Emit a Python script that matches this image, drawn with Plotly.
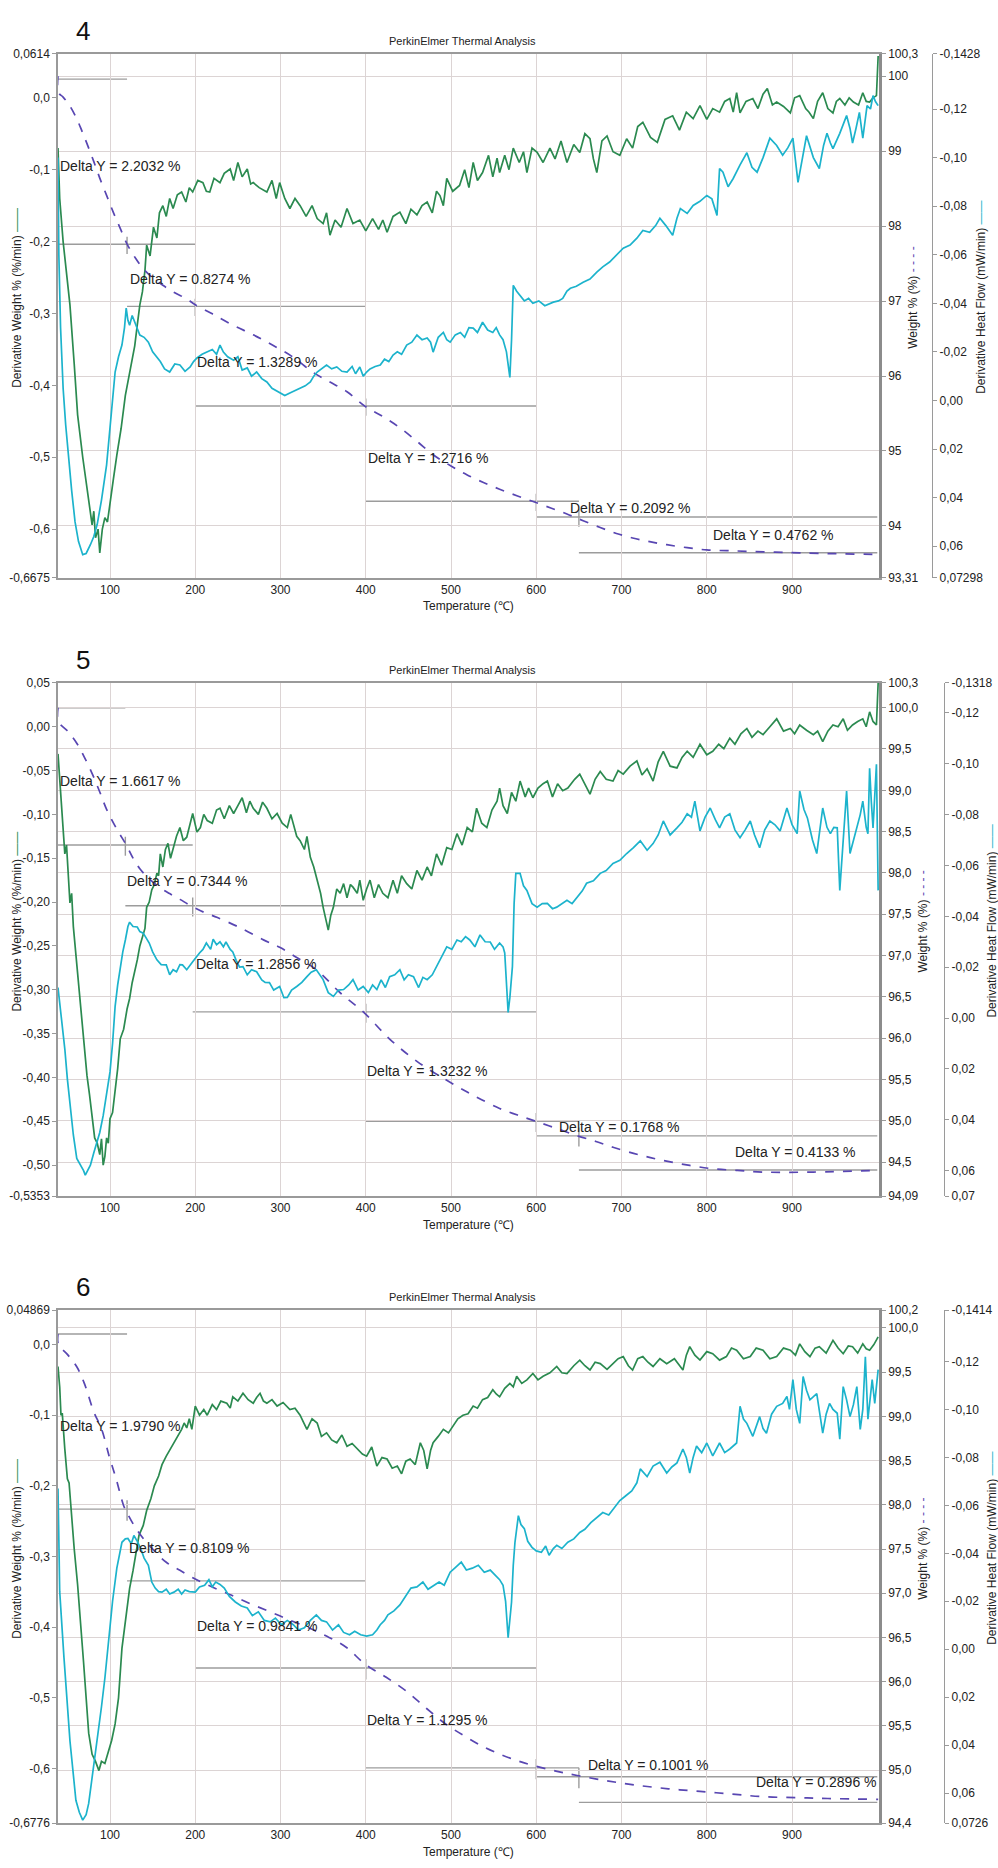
import plotly.graph_objects as go

# ======================= DATA =======================
TEMP_TICKS = [100, 200, 300, 400, 500, 600, 700, 800, 900]
TEMP_RANGE = [39, 1002]
PANEL_NAMES = ["4", "5", "6"]
CHART_TITLE = "PerkinElmer Thermal Analysis"

# ---------- Panel 4 ----------
P4_DW = [(39,-0.07),(41,-0.14),(45,-0.2),(49,-0.24),(53,-0.288),(58,-0.37),(62,-0.441),(68,-0.50),(74,-0.548),(79,-0.594),(81,-0.575),(83,-0.612),(86,-0.60),(88,-0.633),(91,-0.60),(94,-0.584),(97,-0.59),(100,-0.562),(104,-0.53),(108,-0.497),(113,-0.46),(118,-0.414),(122,-0.39),(126,-0.362),(129,-0.345),(132,-0.316),(135,-0.288),(138,-0.27),(141,-0.24),(143,-0.205),(147,-0.22),(151,-0.18),(155,-0.195),(158,-0.16),(162,-0.15),(166,-0.165),(170,-0.14),(174,-0.154),(179,-0.135),(184,-0.131),(189,-0.145),(193,-0.125),(197,-0.131),(203,-0.115),(209,-0.118),(213,-0.13),(217,-0.131),(222,-0.112),(229,-0.118),(234,-0.105),(241,-0.099),(245,-0.115),(250,-0.09),(255,-0.11),(261,-0.099),(265,-0.12),(268,-0.118),(275,-0.125),(284,-0.131),(290,-0.115),(295,-0.14),(299,-0.118),(305,-0.14),(311,-0.154),(317,-0.14),(323,-0.15),(330,-0.165),(337,-0.15),(343,-0.168),(350,-0.175),(354,-0.16),(358,-0.191),(364,-0.17),(371,-0.18),(378,-0.154),(385,-0.175),(393,-0.17),(400,-0.185),(408,-0.168),(415,-0.183),(420,-0.17),(425,-0.187),(432,-0.165),(440,-0.159),(447,-0.175),(453,-0.155),(460,-0.163),(466,-0.15),(472,-0.145),(478,-0.16),(483,-0.13),(487,-0.136),(491,-0.15),(495,-0.112),(502,-0.13),(510,-0.122),(516,-0.10),(521,-0.125),(526,-0.09),(531,-0.115),(537,-0.104),(544,-0.08),(549,-0.11),(554,-0.084),(557,-0.104),(563,-0.08),(568,-0.1),(573,-0.07),(580,-0.09),(585,-0.075),(589,-0.104),(595,-0.07),(601,-0.076),(608,-0.09),(616,-0.07),(622,-0.085),(629,-0.06),(636,-0.09),(644,-0.065),(651,-0.076),(657,-0.05),(663,-0.057),(667,-0.085),(671,-0.104),(677,-0.06),(683,-0.053),(690,-0.075),(698,-0.08),(706,-0.057),(713,-0.07),(719,-0.04),(725,-0.034),(734,-0.055),(742,-0.062),(751,-0.03),(760,-0.025),(768,-0.045),(776,-0.02),(784,-0.029),(792,-0.011),(800,-0.03),(807,-0.015),(815,-0.02),(821,-0.005),(827,-0.001),(831,-0.02),(835,0.007),(839,-0.021),(846,-0.005),(854,-0.001),(860,-0.015),(866,0.005),(871,0.013),(877,-0.01),(882,-0.006),(890,-0.012),(898,-0.021),(903,0.0),(909,0.003),(916,-0.015),(920,-0.02),(925,-0.029),(930,-0.005),(936,0.007),(942,-0.015),(948,-0.021),(952,-0.005),(956,-0.001),(962,-0.01),(967,0.0),(972,-0.006),(978,-0.01),(983,0.007),(987,-0.005),(991,-0.006),(995,0.0),(999,0.003),(1001,0.058)]
P4_W = [(39,100.0),(39.5,99.78),(45,99.72),(53,99.6),(61,99.43),(67,99.27),(74,99.07),(81,98.86),(88,98.64),(96,98.41),(104,98.18),(112,97.97),(120,97.76),(130,97.57),(139,97.43),(150,97.31),(162,97.21),(176,97.11),(190,97.03),(200,96.95),(220,96.83),(244,96.68),(268,96.55),(291,96.41),(315,96.25),(338,96.05),(358,95.92),(378,95.79),(400,95.59),(420,95.46),(440,95.31),(460,95.13),(479,94.95),(500,94.80),(519,94.68),(538,94.58),(557,94.49),(578,94.40),(598,94.32),(617,94.24),(636,94.16),(655,94.07),(675,93.98),(694,93.90),(713,93.84),(733,93.79),(753,93.75),(777,93.71),(800,93.68),(825,93.67),(851,93.66),(880,93.65),(909,93.64),(950,93.63),(1001,93.62)]
P4_HF = [(39,-0.10),(40,-0.06),(42,-0.03),(45,-0.005),(48,0.01),(51,0.0224),(55,0.037),(59,0.050),(63,0.058),(68,0.0635),(72,0.063),(77,0.0594),(81,0.056),(85,0.051),(90,0.041),(96,0.0265),(101,0.008),(106,-0.0117),(110,-0.018),(114,-0.0228),(117,-0.03),(119,-0.038),(121,-0.033),(123,-0.031),(126,-0.035),(129,-0.0322),(132,-0.03),(135,-0.0269),(140,-0.026),(145,-0.024),(150,-0.02),(155,-0.018),(159,-0.016),(164,-0.013),(170,-0.0117),(176,-0.015),(182,-0.0146),(188,-0.012),(194,-0.0138),(198,-0.016),(202,-0.0175),(208,-0.019),(214,-0.0199),(220,-0.021),(225,-0.019),(229,-0.0228),(233,-0.0199),(238,-0.018),(245,-0.0166),(250,-0.018),(255,-0.0125),(261,-0.0134),(266,-0.01),(272,-0.0117),(278,-0.009),(284,-0.0076),(290,-0.005),(295,-0.004),(299,-0.0031),(305,-0.002),(311,-0.0031),(317,-0.004),(323,-0.005),(329,-0.006),(335,-0.0076),(339,-0.01),(343,-0.0117),(348,-0.013),(354,-0.0146),(360,-0.013),(366,-0.0138),(372,-0.012),(378,-0.0117),(384,-0.014),(388,-0.011),(393,-0.0138),(397,-0.01),(401,-0.0117),(405,-0.013),(411,-0.014),(417,-0.0146),(422,-0.017),(427,-0.016),(432,-0.0187),(437,-0.02),(442,-0.019),(448,-0.0228),(454,-0.024),(460,-0.0269),(466,-0.025),(472,-0.0257),(476,-0.024),(479,-0.0199),(485,-0.026),(491,-0.028),(495,-0.025),(499,-0.024),(505,-0.027),(511,-0.028),(516,-0.026),(521,-0.03),(526,-0.0298),(531,-0.028),(537,-0.0322),(543,-0.029),(549,-0.028),(553,-0.03),(557,-0.027),(561,-0.025),(565,-0.02),(569,-0.0095),(571,-0.025),(573,-0.0474),(577,-0.045),(581,-0.0433),(586,-0.041),(591,-0.042),(596,-0.04),(603,-0.041),(610,-0.039),(620,-0.0405),(626,-0.041),(631,-0.042),(636,-0.045),(640,-0.0462),(647,-0.047),(655,-0.0487),(663,-0.05),(671,-0.0528),(678,-0.055),(686,-0.057),(694,-0.06),(702,-0.0627),(710,-0.064),(718,-0.0668),(725,-0.07),(733,-0.0692),(740,-0.072),(745,-0.075),(752,-0.072),(760,-0.068),(765,-0.075),(769,-0.079),(777,-0.077),(784,-0.0803),(792,-0.082),(800,-0.0844),(806,-0.083),(812,-0.0762),(815,-0.0955),(819,-0.094),(825,-0.088),(831,-0.0914),(839,-0.097),(847,-0.102),(853,-0.096),(859,-0.094),(866,-0.1),(874,-0.108),(882,-0.105),(889,-0.101),(895,-0.104),(901,-0.108),(907,-0.0898),(912,-0.1),(917,-0.109),(925,-0.1),(932,-0.0955),(937,-0.105),(941,-0.110),(945,-0.106),(948,-0.1037),(956,-0.11),(964,-0.1173),(968,-0.112),(971,-0.106),(975,-0.112),(979,-0.1186),(983,-0.108),(988,-0.1214),(992,-0.12),(995,-0.1255),(998,-0.123),(1001,-0.1214)]
P4_STEP_T = [39, 120, 200, 400, 600, 650, 1000]
P4_DELTA = [2.2032, 0.8274, 1.3289, 1.2716, 0.2092, 0.4762]
P4_W0 = 99.96
P4_LABEL_T = [39, 121, 200, 400, 637, 805]
P4_LABEL_W = [98.75, 97.24, 96.14, 94.85, 94.19, 93.82]
P4_DW_RANGE = [-0.6675, 0.0614]
P4_W_RANGE = [93.31, 100.3]
P4_HF_RANGE = [0.07298, -0.1428]
P4_DW_TICKS = [0.0614, 0.0, -0.1, -0.2, -0.3, -0.4, -0.5, -0.6, -0.6675]
P4_DW_TEXT = ["0,0614", "0,0", "-0,1", "-0,2", "-0,3", "-0,4", "-0,5", "-0,6", "-0,6675"]
P4_W_TICKS = [100.3, 100, 99, 98, 97, 96, 95, 94, 93.31]
P4_W_TEXT = ["100,3", "100", "99", "98", "97", "96", "95", "94", "93,31"]
P4_HF_TICKS = [-0.1428, -0.12, -0.10, -0.08, -0.06, -0.04, -0.02, 0.0, 0.02, 0.04, 0.06, 0.07298]
P4_HF_TEXT = ["-0,1428", "-0,12", "-0,10", "-0,08", "-0,06", "-0,04", "-0,02", "0,00", "0,02", "0,04", "0,06", "0,07298"]

# ---------- Panel 5 ----------
P5_DW = [(39,-0.031),(41,-0.06),(44,-0.093),(46,-0.13),(47,-0.145),(49,-0.135),(51,-0.17),(53,-0.201),(55,-0.19),(57,-0.228),(60,-0.26),(63,-0.292),(65,-0.32),(67,-0.341),(70,-0.37),(73,-0.398),(76,-0.42),(79,-0.443),(82,-0.469),(85,-0.475),(88,-0.488),(90,-0.47),(92,-0.50),(94,-0.49),(96,-0.469),(98,-0.475),(100,-0.447),(103,-0.44),(106,-0.416),(109,-0.39),(112,-0.356),(116,-0.345),(120,-0.322),(123,-0.31),(126,-0.292),(129,-0.28),(132,-0.266),(135,-0.25),(139,-0.235),(141,-0.23),(143,-0.206),(146,-0.2),(149,-0.186),(152,-0.18),(155,-0.167),(157,-0.17),(159,-0.145),(162,-0.160),(165,-0.14),(168,-0.133),(171,-0.15),(174,-0.138),(178,-0.125),(182,-0.115),(186,-0.13),(190,-0.126),(194,-0.11),(197,-0.099),(202,-0.12),(206,-0.115),(210,-0.1),(214,-0.107),(220,-0.11),(225,-0.095),(229,-0.093),(234,-0.105),(240,-0.09),(245,-0.099),(250,-0.09),(255,-0.081),(260,-0.098),(264,-0.085),(268,-0.093),(274,-0.1),(279,-0.086),(284,-0.093),(290,-0.105),(296,-0.099),(302,-0.11),(308,-0.115),(312,-0.1),(315,-0.111),(319,-0.125),(323,-0.13),(328,-0.14),(331,-0.125),(335,-0.149),(339,-0.16),(343,-0.175),(347,-0.19),(350,-0.206),(353,-0.22),(356,-0.232),(359,-0.215),(362,-0.206),(366,-0.185),(370,-0.19),(374,-0.179),(378,-0.195),(382,-0.18),(385,-0.183),(390,-0.19),(393,-0.175),(397,-0.198),(401,-0.185),(405,-0.175),(410,-0.195),(415,-0.18),(420,-0.19),(426,-0.195),(432,-0.175),(437,-0.19),(442,-0.17),(448,-0.179),(454,-0.185),(460,-0.164),(466,-0.175),(472,-0.160),(477,-0.17),(483,-0.145),(489,-0.158),(495,-0.138),(501,-0.14),(507,-0.122),(513,-0.135),(519,-0.115),(525,-0.12),(530,-0.093),(536,-0.11),(542,-0.115),(548,-0.095),(554,-0.085),(557,-0.07),(561,-0.09),(566,-0.099),(571,-0.075),(576,-0.085),(581,-0.062),(587,-0.08),(591,-0.07),(596,-0.081),(602,-0.07),(608,-0.065),(613,-0.062),(619,-0.08),(625,-0.065),(631,-0.073),(637,-0.07),(645,-0.06),(651,-0.054),(657,-0.065),(663,-0.077),(669,-0.06),(675,-0.051),(682,-0.06),(690,-0.062),(696,-0.05),(702,-0.054),(710,-0.045),(718,-0.039),(724,-0.055),(730,-0.048),(737,-0.062),(743,-0.04),(749,-0.028),(757,-0.045),(765,-0.047),(771,-0.035),(777,-0.028),(784,-0.035),(792,-0.02),(800,-0.032),(807,-0.028),(814,-0.02),(820,-0.025),(827,-0.013),(833,-0.02),(840,-0.008),(847,-0.002),(853,-0.012),(860,-0.005),(866,-0.009),(874,0.0),(882,0.009),(890,-0.005),(898,-0.002),(903,-0.008),(909,0.002),(917,-0.004),(925,-0.009),(930,-0.005),(936,-0.017),(942,-0.005),(948,0.002),(954,0.0),(960,0.009),(965,-0.004),(971,0.002),(977,0.006),(983,0.009),(987,0.0),(991,0.017),(995,0.006),(999,0.002),(1001,0.05)]
P5_W = [(39,100.0),(39.5,99.83),(50,99.72),(61,99.57),(70,99.40),(80,99.18),(88,98.98),(96,98.77),(108,98.53),(119,98.34),(127,98.18),(135,98.05),(147,97.92),(159,97.82),(170,97.75),(182,97.68),(197,97.59),(211,97.52),(226,97.46),(252,97.34),(280,97.19),(299,97.10),(320,96.97),(342,96.83),(370,96.55),(398,96.31),(428,95.99),(460,95.72),(495,95.49),(526,95.31),(557,95.15),(578,95.07),(598,95.0),(623,94.91),(648,94.82),(670,94.75),(690,94.68),(720,94.59),(749,94.52),(780,94.46),(807,94.42),(836,94.40),(866,94.38),(925,94.38),(1001,94.40)]
P5_HF = [(39,-0.012),(43,0.0),(47,0.0122),(50,0.024),(53,0.0345),(57,0.046),(61,0.0552),(64,0.057),(67,0.0583),(69,0.06),(71,0.0618),(74,0.06),(77,0.0579),(81,0.053),(85,0.0485),(88,0.045),(92,0.0384),(96,0.03),(100,0.0212),(103,0.01),(106,-0.0046),(109,-0.013),(112,-0.0202),(115,-0.026),(118,-0.0307),(121,-0.036),(123,-0.0377),(127,-0.036),(132,-0.0358),(135,-0.034),(139,-0.0334),(143,-0.031),(146,-0.0295),(150,-0.026),(155,-0.0229),(160,-0.021),(166,-0.0209),(170,-0.017),(174,-0.019),(178,-0.0182),(182,-0.021),(185,-0.0209),(190,-0.019),(197,-0.0221),(201,-0.024),(205,-0.0256),(209,-0.027),(213,-0.0295),(218,-0.027),(221,-0.031),(225,-0.0288),(229,-0.03),(233,-0.028),(236,-0.0299),(241,-0.027),(244,-0.026),(248,-0.0227),(252,-0.02),(256,-0.0202),(261,-0.017),(266,-0.019),(272,-0.0182),(278,-0.015),(282,-0.014),(287,-0.0139),(292,-0.011),(299,-0.0124),(304,-0.008),(308,-0.0081),(313,-0.011),(319,-0.0124),(325,-0.014),(331,-0.0163),(336,-0.018),(342,-0.019),(346,-0.017),(350,-0.0151),(356,-0.01),(362,-0.0085),(368,-0.011),(374,-0.0112),(380,-0.013),(385,-0.0151),(391,-0.011),(397,-0.0124),(403,-0.01),(408,-0.013),(413,-0.0112),(418,-0.015),(423,-0.012),(428,-0.0163),(434,-0.017),(440,-0.019),(445,-0.015),(450,-0.017),(456,-0.0163),(462,-0.012),(467,-0.016),(472,-0.0151),(478,-0.017),(483,-0.0202),(489,-0.024),(495,-0.028),(501,-0.027),(507,-0.0307),(512,-0.03),(517,-0.032),(522,-0.0307),(528,-0.028),(534,-0.0327),(540,-0.03),(546,-0.0299),(551,-0.027),(557,-0.0295),(561,-0.028),(563,-0.0256),(565,-0.015),(567,-0.0022),(569,-0.008),(572,-0.0202),(574,-0.045),(576,-0.0569),(581,-0.0569),(585,-0.052),(589,-0.0502),(595,-0.045),(601,-0.0436),(607,-0.045),(613,-0.0451),(619,-0.043),(624,-0.0436),(630,-0.045),(636,-0.0463),(642,-0.045),(648,-0.0475),(654,-0.05),(659,-0.053),(667,-0.054),(675,-0.0569),(682,-0.058),(690,-0.0608),(698,-0.062),(706,-0.0647),(714,-0.067),(722,-0.0697),(730,-0.066),(737,-0.0686),(743,-0.072),(749,-0.0775),(757,-0.072),(765,-0.0748),(771,-0.077),(777,-0.0803),(782,-0.079),(786,-0.0853),(792,-0.0736),(798,-0.079),(804,-0.0826),(810,-0.078),(815,-0.0748),(821,-0.079),(827,-0.0803),(833,-0.074),(839,-0.0709),(845,-0.074),(851,-0.0775),(856,-0.072),(862,-0.067),(868,-0.074),(874,-0.0775),(880,-0.076),(886,-0.0736),(894,-0.0826),(900,-0.076),(906,-0.0725),(909,-0.0893),(914,-0.082),(918,-0.0787),(924,-0.07),(929,-0.0647),(933,-0.075),(936,-0.0826),(941,-0.075),(945,-0.0725),(949,-0.075),(953,-0.0748),(956,-0.0502),(960,-0.07),(964,-0.0893),(968,-0.0647),(972,-0.07),(976,-0.0748),(980,-0.08),(983,-0.0853),(987,-0.075),(989,-0.0725),(991,-0.0982),(993,-0.085),(995,-0.0748),(999,-0.0998),(1001,-0.0502)]
P5_STEP_T = [39, 118, 197, 400, 600, 650, 1000]
P5_DELTA = [1.6617, 0.7344, 1.2856, 1.3232, 0.1768, 0.4133]
P5_W0 = 100.0
P5_LABEL_T = [39, 118, 198, 399, 624, 831]
P5_LABEL_W = [99.06, 97.86, 96.85, 95.55, 94.88, 94.57]
P5_DW_RANGE = [-0.5353, 0.05]
P5_W_RANGE = [94.09, 100.3]
P5_HF_RANGE = [0.07, -0.1318]
P5_DW_TICKS = [0.05, 0.0, -0.05, -0.10, -0.15, -0.20, -0.25, -0.30, -0.35, -0.40, -0.45, -0.50, -0.5353]
P5_DW_TEXT = ["0,05", "0,00", "-0,05", "-0,10", "-0,15", "-0,20", "-0,25", "-0,30", "-0,35", "-0,40", "-0,45", "-0,50", "-0,5353"]
P5_W_TICKS = [100.3, 100.0, 99.5, 99.0, 98.5, 98.0, 97.5, 97.0, 96.5, 96.0, 95.5, 95.0, 94.5, 94.09]
P5_W_TEXT = ["100,3", "100,0", "99,5", "99,0", "98,5", "98,0", "97,5", "97,0", "96,5", "96,0", "95,5", "95,0", "94,5", "94,09"]
P5_HF_TICKS = [-0.1318, -0.12, -0.10, -0.08, -0.06, -0.04, -0.02, 0.0, 0.02, 0.04, 0.06, 0.07]
P5_HF_TEXT = ["-0,1318", "-0,12", "-0,10", "-0,08", "-0,06", "-0,04", "-0,02", "0,00", "0,02", "0,04", "0,06", "0,07"]

# ---------- Panel 6 ----------
P6_DW = [(39,-0.031),(41,-0.06),(42.5,-0.1),(44,-0.097),(47,-0.148),(50,-0.19),(52,-0.196),(55,-0.25),(58,-0.289),(62,-0.34),(65,-0.383),(69,-0.45),(72,-0.5),(75,-0.55),(79,-0.58),(83,-0.59),(87,-0.603),(90,-0.59),(94,-0.593),(98,-0.575),(102,-0.56),(106,-0.537),(110,-0.5),(114,-0.43),(118,-0.39),(123,-0.345),(127,-0.32),(130,-0.298),(134,-0.27),(139,-0.256),(143,-0.235),(148,-0.218),(152,-0.2),(157,-0.186),(161,-0.17),(166,-0.158),(170,-0.15),(175,-0.139),(180,-0.13),(184,-0.12),(187,-0.111),(190,-0.118),(193,-0.105),(196,-0.12),(200,-0.087),(205,-0.1),(210,-0.092),(214,-0.1),(220,-0.085),(225,-0.092),(230,-0.08),(237,-0.083),(241,-0.09),(244,-0.074),(250,-0.08),(256,-0.069),(262,-0.078),(268,-0.083),(272,-0.075),(276,-0.069),(280,-0.08),(284,-0.083),(290,-0.078),(296,-0.087),(303,-0.082),(311,-0.092),(317,-0.09),(323,-0.1),(327,-0.11),(331,-0.12),(337,-0.105),(343,-0.111),(348,-0.13),(354,-0.125),(360,-0.135),(366,-0.139),(372,-0.128),(378,-0.144),(384,-0.14),(390,-0.148),(396,-0.155),(401,-0.158),(407,-0.145),(413,-0.172),(419,-0.16),(425,-0.162),(431,-0.175),(437,-0.172),(442,-0.183),(447,-0.165),(452,-0.162),(458,-0.17),(464,-0.139),(468,-0.15),(472,-0.176),(476,-0.15),(479,-0.139),(485,-0.13),(491,-0.12),(497,-0.125),(502,-0.116),(508,-0.105),(514,-0.1),(520,-0.098),(526,-0.087),(531,-0.09),(537,-0.078),(543,-0.075),(549,-0.064),(553,-0.07),(557,-0.074),(563,-0.062),(569,-0.055),(573,-0.06),(577,-0.045),(583,-0.055),(589,-0.05),(596,-0.041),(602,-0.05),(608,-0.045),(616,-0.04),(624,-0.031),(630,-0.04),(636,-0.041),(644,-0.03),(651,-0.022),(657,-0.03),(663,-0.036),(669,-0.025),(675,-0.027),(683,-0.035),(690,-0.027),(696,-0.02),(702,-0.017),(708,-0.03),(713,-0.036),(719,-0.02),(725,-0.017),(731,-0.025),(737,-0.031),(745,-0.02),(753,-0.027),(762,-0.02),(772,-0.036),(776,-0.015),(780,-0.003),(786,-0.015),(792,-0.022),(800,-0.01),(807,-0.013),(815,-0.022),(823,-0.017),(829,-0.005),(835,-0.008),(843,-0.02),(851,-0.017),(858,-0.005),(866,-0.008),(874,-0.02),(882,-0.017),(890,-0.005),(898,-0.008),(904,-0.015),(909,0.001),(915,-0.01),(921,-0.017),(927,-0.005),(932,-0.003),(940,-0.012),(948,0.006),(954,-0.005),(960,-0.013),(966,-0.002),(971,-0.003),(977,-0.012),(983,0.001),(987,-0.006),(991,-0.008),(996,0.0),(1001,0.011)]
P6_W = [(39,99.93),(39.5,99.81),(50,99.70),(61,99.56),(70,99.37),(81,99.05),(90,98.86),(99,98.55),(107,98.30),(116,97.99),(120,97.91),(128,97.77),(139,97.62),(150,97.50),(166,97.35),(182,97.26),(200,97.16),(220,97.07),(242,96.98),(265,96.88),(288,96.79),(310,96.70),(333,96.61),(355,96.51),(377,96.39),(399,96.20),(424,96.05),(448,95.89),(471,95.70),(494,95.52),(517,95.38),(539,95.26),(560,95.17),(580,95.10),(598,95.05),(623,94.99),(648,94.94),(683,94.88),(718,94.83),(755,94.79),(792,94.76),(830,94.73),(867,94.70),(905,94.69),(942,94.68),(1001,94.67)]
P6_HF = [(39,-0.067),(40,-0.03),(41,-0.024),(46,0.0035),(53,0.0382),(60,0.063),(64,0.068),(68,0.0713),(72,0.069),(75,0.0643),(82,0.0465),(90,0.024),(94,0.012),(98,-0.003),(103,-0.02),(108,-0.0338),(114,-0.0446),(118,-0.046),(121,-0.0462),(125,-0.044),(128,-0.0474),(132,-0.045),(136,-0.042),(140,-0.038),(145,-0.035),(149,-0.028),(153,-0.0255),(157,-0.024),(161,-0.0238),(166,-0.025),(170,-0.023),(175,-0.0238),(180,-0.025),(184,-0.023),(188,-0.0247),(193,-0.024),(200,-0.0238),(205,-0.026),(211,-0.0267),(216,-0.029),(220,-0.026),(224,-0.028),(229,-0.027),(234,-0.0255),(240,-0.022),(247,-0.0197),(254,-0.018),(261,-0.0172),(267,-0.014),(274,-0.0156),(281,-0.012),(288,-0.0114),(294,-0.013),(301,-0.0102),(308,-0.012),(315,-0.0102),(321,-0.008),(328,-0.0089),(335,-0.012),(342,-0.0143),(348,-0.012),(354,-0.0114),(361,-0.008),(368,-0.0102),(374,-0.007),(381,-0.006),(387,-0.0075),(394,-0.006),(401,-0.0055),(408,-0.006),(413,-0.008),(417,-0.0102),(422,-0.012),(426,-0.0143),(433,-0.016),(440,-0.0185),(446,-0.022),(453,-0.0255),(460,-0.026),(467,-0.028),(473,-0.025),(480,-0.0267),(486,-0.028),(492,-0.0267),(499,-0.0321),(505,-0.034),(512,-0.0363),(518,-0.033),(525,-0.0338),(532,-0.035),(539,-0.0321),(546,-0.033),(552,-0.0309),(557,-0.029),(561,-0.0267),(564,-0.02),(567,-0.0048),(569,-0.012),(571,-0.0197),(573,-0.035),(575,-0.0446),(579,-0.0557),(582,-0.052),(586,-0.0503),(590,-0.045),(595,-0.0425),(600,-0.041),(606,-0.0404),(611,-0.043),(615,-0.0392),(620,-0.042),(624,-0.0433),(630,-0.042),(637,-0.0446),(644,-0.046),(651,-0.0487),(657,-0.05),(664,-0.0528),(671,-0.055),(678,-0.057),(685,-0.056),(691,-0.0586),(698,-0.062),(705,-0.064),(712,-0.066),(718,-0.0694),(722,-0.0752),(730,-0.072),(737,-0.0764),(745,-0.078),(753,-0.0735),(759,-0.076),(765,-0.0777),(772,-0.0835),(776,-0.08),(780,-0.0735),(784,-0.08),(788,-0.0847),(794,-0.082),(800,-0.086),(807,-0.0806),(815,-0.086),(821,-0.082),(827,-0.0835),(835,-0.086),(839,-0.1013),(843,-0.096),(847,-0.0942),(854,-0.0888),(862,-0.097),(866,-0.092),(870,-0.0901),(876,-0.098),(882,-0.1013),(889,-0.1025),(894,-0.1054),(897,-0.1),(901,-0.1124),(905,-0.1),(909,-0.0942),(913,-0.1137),(917,-0.108),(921,-0.104),(929,-0.1066),(933,-0.098),(936,-0.0901),(940,-0.098),(944,-0.1025),(948,-0.1),(953,-0.0984),(956,-0.0876),(960,-0.1095),(964,-0.104),(968,-0.097),(972,-0.102),(976,-0.1095),(980,-0.0917),(983,-0.1),(986,-0.122),(989,-0.0959),(994,-0.1124),(997,-0.1025),(1001,-0.1166)]
P6_STEP_T = [39, 120, 200, 400, 600, 650, 1000]
P6_DELTA = [1.9790, 0.8109, 0.9841, 1.1295, 0.1001, 0.2896]
P6_W0 = 99.93
P6_LABEL_T = [39, 120, 200, 399, 658, 855]
P6_LABEL_W = [98.85, 97.47, 96.59, 95.52, 95.01, 94.82]
P6_DW_RANGE = [-0.6776, 0.04869]
P6_W_RANGE = [94.4, 100.2]
P6_HF_RANGE = [0.0726, -0.1414]
P6_DW_TICKS = [0.04869, 0.0, -0.1, -0.2, -0.3, -0.4, -0.5, -0.6, -0.6776]
P6_DW_TEXT = ["0,04869", "0,0", "-0,1", "-0,2", "-0,3", "-0,4", "-0,5", "-0,6", "-0,6776"]
P6_W_TICKS = [100.2, 100.0, 99.5, 99.0, 98.5, 98.0, 97.5, 97.0, 96.5, 96.0, 95.5, 95.0, 94.4]
P6_W_TEXT = ["100,2", "100,0", "99,5", "99,0", "98,5", "98,0", "97,5", "97,0", "96,5", "96,0", "95,5", "95,0", "94,4"]
P6_HF_TICKS = [-0.1414, -0.12, -0.10, -0.08, -0.06, -0.04, -0.02, 0.0, 0.02, 0.04, 0.06, 0.0726]
P6_HF_TEXT = ["-0,1414", "-0,12", "-0,10", "-0,08", "-0,06", "-0,04", "-0,02", "0,00", "0,02", "0,04", "0,06", "0,0726"]

# ======================= STYLE / LAYOUT =======================
W_PX, H_PX = 998, 1868
FONT = "Liberation Sans, Arial, Helvetica, sans-serif"
GREEN = "#2b8a50"
CYAN = "#1cb3cc"
PURPLE = "#5846b2"
GRID = "#dcd4d4"
STEPLINE = "#9c9c9c"
AXIS = "#9a9a9a"
TXT = "#222222"

PLOT_LEFT, PLOT_RIGHT = 58, 879
PANEL_TOP = [47, 681, 1313]
PANEL_BOTTOM = [575, 1198, 1830]
HEAT_AXIS_X = [932, 944, 944]
W_TITLE_X = [913, 923, 923]
H_TITLE_X = [981, 992, 992]


def px_x(p):
    return p / W_PX


def px_y(p):
    return 1 - p / H_PX


fig = go.Figure()
layout = dict(
    width=W_PX, height=H_PX, autosize=False,
    margin=dict(l=0, r=0, t=0, b=0),
    paper_bgcolor="white", plot_bgcolor="white",
    showlegend=False,
    font=dict(family=FONT, size=12, color=TXT),
)
shapes = []
annotations = []


def add_panel(i, dw, w, hf, step_t, deltas, w0, label_t, label_w,
              dw_range, w_range, hf_range, dw_ticks, dw_text, w_ticks, w_text, hf_ticks, hf_text):
    n = 3 * i
    xname = "x" if i == 0 else f"x{i + 1}"
    xkey = "xaxis" if i == 0 else f"xaxis{i + 1}"
    yl = "y" if n == 0 else f"y{n + 1}"
    ylkey = "yaxis" if n == 0 else f"yaxis{n + 1}"
    yw, ywkey = f"y{n + 2}", f"yaxis{n + 2}"
    yh, yhkey = f"y{n + 3}", f"yaxis{n + 3}"
    top, bot = PANEL_TOP[i], PANEL_BOTTOM[i]
    dom = [px_y(bot), px_y(top)]
    tickfont = dict(family=FONT, size=12, color=TXT)

    layout[xkey] = dict(
        domain=[px_x(PLOT_LEFT), px_x(PLOT_RIGHT)], anchor=yl, range=TEMP_RANGE,
        tickvals=TEMP_TICKS, ticktext=[str(t) for t in TEMP_TICKS],
        showgrid=True, gridcolor=GRID, gridwidth=1.3,
        showline=True, linecolor=AXIS, linewidth=1.5, mirror=True,
        ticks="", zeroline=False, tickfont=tickfont,
    )
    layout[ylkey] = dict(
        domain=dom, anchor=xname, range=dw_range,
        tickvals=dw_ticks, ticktext=dw_text, showgrid=False, zeroline=False,
        showline=True, linecolor=AXIS, linewidth=1.5,
        ticks="outside", ticklen=4, tickcolor=AXIS, tickfont=tickfont,
    )
    layout[ywkey] = dict(
        overlaying=yl, anchor=xname, side="right", range=w_range,
        tickvals=w_ticks, ticktext=w_text, showgrid=True, gridcolor=GRID, gridwidth=1.3,
        zeroline=False, showline=True, linecolor="#8c8c8c", linewidth=2.5,
        ticks="outside", ticklen=4, tickcolor=AXIS, tickfont=tickfont,
    )
    layout[yhkey] = dict(
        overlaying=yl, anchor="free", position=px_x(HEAT_AXIS_X[i]), side="right",
        range=hf_range, tickvals=hf_ticks, ticktext=hf_text, showgrid=False,
        zeroline=False, showline=True, linecolor=AXIS, linewidth=1.2,
        ticks="outside", ticklen=4, tickcolor=AXIS, tickfont=tickfont,
    )

    fig.add_trace(go.Scatter(x=[p[0] for p in dw], y=[p[1] for p in dw], xaxis=xname, yaxis=yl,
                             mode="lines", line=dict(color=GREEN, width=1.7), hoverinfo="skip"))
    fig.add_trace(go.Scatter(x=[p[0] for p in hf], y=[p[1] for p in hf], xaxis=xname, yaxis=yh,
                             mode="lines", line=dict(color=CYAN, width=1.7), hoverinfo="skip"))
    fig.add_trace(go.Scatter(x=[p[0] for p in w], y=[p[1] for p in w], xaxis=xname, yaxis=yw,
                             mode="lines", line=dict(color=PURPLE, width=1.7, dash="dash", shape="spline"),
                             hoverinfo="skip"))

    # Delta-Y step markers
    weights = [w0]
    for d in deltas:
        weights.append(weights[-1] - d)
    for k in range(len(deltas)):
        ta, tb = step_t[k], step_t[k + 1]
        for wv in (weights[k], weights[k + 1]):
            shapes.append(dict(type="line", xref=xname, yref=yw, x0=ta, x1=tb, y0=wv, y1=wv,
                               line=dict(color=STEPLINE, width=1.4), layer="below"))
        if k > 0:
            shapes.append(dict(type="line", xref=xname, yref=yw, x0=ta, x1=ta,
                               y0=weights[k] - 0.13, y1=weights[k] + 0.1,
                               line=dict(color=STEPLINE, width=1.4), layer="below"))
        annotations.append(dict(xref=xname, yref=yw, x=label_t[k], y=label_w[k], yshift=4,
                                text=f"Delta Y = {deltas[k]:.4f} %", showarrow=False,
                                xanchor="left", yanchor="middle",
                                font=dict(family=FONT, size=14, color=TXT)))

    # titles / labels
    mid = (top + bot) / 2 - 18
    annotations.append(dict(xref="paper", yref="paper", x=px_x(83), y=px_y(top - 23),
                            text=PANEL_NAMES[i], showarrow=False, xanchor="center", yanchor="middle",
                            font=dict(family=FONT, size=26, color="#111")))
    annotations.append(dict(xref="paper", yref="paper", x=px_x(462), y=px_y(top - 13),
                            text=CHART_TITLE, showarrow=False, xanchor="center", yanchor="middle",
                            font=dict(family=FONT, size=11, color=TXT)))
    annotations.append(dict(xref="paper", yref="paper", x=px_x((PLOT_LEFT + PLOT_RIGHT) / 2),
                            y=px_y(bot + 29), text="Temperature (\u2103)", showarrow=False,
                            xanchor="center", yanchor="middle", font=dict(family=FONT, size=12, color=TXT)))
    annotations.append(dict(xref="paper", yref="paper", x=px_x(17), y=px_y(mid),
                            text=f"Derivative Weight % (%/min) <span style='color:{GREEN}'>\u2014\u2014</span>",
                            textangle=-90, showarrow=False, xanchor="center", yanchor="middle",
                            font=dict(family=FONT, size=12, color=TXT)))
    annotations.append(dict(xref="paper", yref="paper", x=px_x(W_TITLE_X[i]), y=px_y(mid),
                            text=f"Weight % (%) <span style='color:{PURPLE}'>- - - -</span>",
                            textangle=-90, showarrow=False, xanchor="center", yanchor="middle",
                            font=dict(family=FONT, size=12, color=TXT)))
    annotations.append(dict(xref="paper", yref="paper", x=px_x(H_TITLE_X[i]), y=px_y(mid),
                            text=f"Derivative Heat Flow (mW/min) <span style='color:{CYAN}'>\u2014\u2014</span>",
                            textangle=-90, showarrow=False, xanchor="center", yanchor="middle",
                            font=dict(family=FONT, size=12, color=TXT)))


add_panel(0, P4_DW, P4_W, P4_HF, P4_STEP_T, P4_DELTA, P4_W0, P4_LABEL_T, P4_LABEL_W,
          P4_DW_RANGE, P4_W_RANGE, P4_HF_RANGE, P4_DW_TICKS, P4_DW_TEXT, P4_W_TICKS, P4_W_TEXT,
          P4_HF_TICKS, P4_HF_TEXT)
add_panel(1, P5_DW, P5_W, P5_HF, P5_STEP_T, P5_DELTA, P5_W0, P5_LABEL_T, P5_LABEL_W,
          P5_DW_RANGE, P5_W_RANGE, P5_HF_RANGE, P5_DW_TICKS, P5_DW_TEXT, P5_W_TICKS, P5_W_TEXT,
          P5_HF_TICKS, P5_HF_TEXT)
add_panel(2, P6_DW, P6_W, P6_HF, P6_STEP_T, P6_DELTA, P6_W0, P6_LABEL_T, P6_LABEL_W,
          P6_DW_RANGE, P6_W_RANGE, P6_HF_RANGE, P6_DW_TICKS, P6_DW_TEXT, P6_W_TICKS, P6_W_TEXT,
          P6_HF_TICKS, P6_HF_TEXT)

layout["shapes"] = shapes
layout["annotations"] = annotations
fig.update_layout(**layout)
fig.write_html("out.html", config={"displayModeBar": False},
               post_script="document.body.style.margin='0';")
